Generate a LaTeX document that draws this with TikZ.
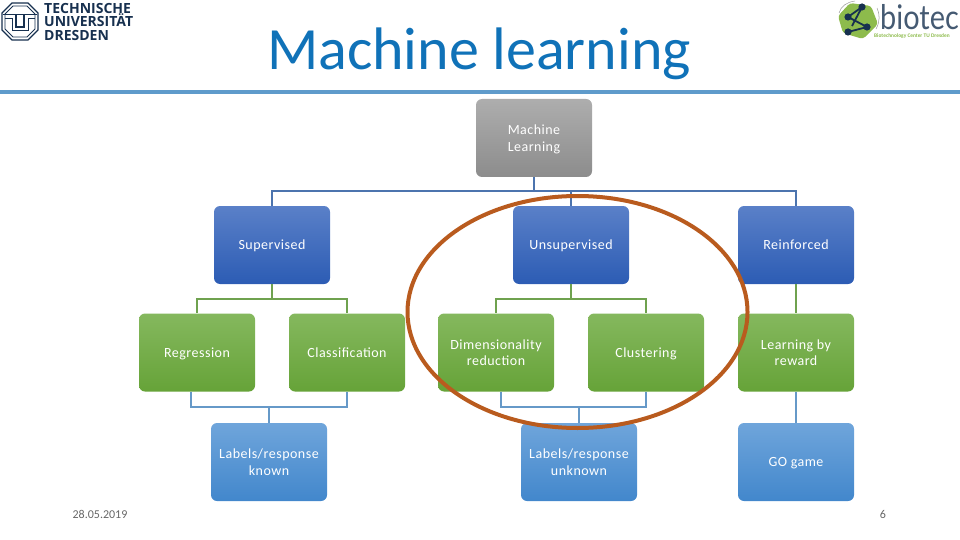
\documentclass[tikz,border=0pt]{standalone}
\usepackage{fontspec}
\setmainfont{Carlito}
\newfontfamily\boxfont[LetterSpace=3.5]{Carlito}
\newfontfamily\logofont{Open Sans}
\newfontfamily\biofont[FakeStretch=0.85]{Lato}
\usetikzlibrary{positioning}
\definecolor{titleblue}{HTML}{1072B8}
\definecolor{rulecol}{HTML}{5F9BCB}
\definecolor{ringcol}{HTML}{B95B1E}
\definecolor{linedark}{HTML}{4C74AE}
\definecolor{linegreen}{HTML}{6FA24F}
\definecolor{linelight}{HTML}{6699C8}
\definecolor{tunavy}{HTML}{17304F}
\definecolor{biogreen}{HTML}{8DBB4C}
\begin{document}
\begin{tikzpicture}[x=1pt,y=-1pt,on grid,
    box/.style ={rectangle ,rounded corners =6pt ,minimum width =116pt ,minimum height =78pt ,
    inner sep =0pt ,text=white ,align=center ,text depth =0pt ,font=\boxfont\fontsize{14}{16.5}\selectfont},
    graybox/.style ={box ,top color =black!32 ,bottom color =black!45},
    bluebox/.style ={box ,top color ={rgb,255:red,90;green,128;blue,200} ,bottom color ={rgb,255:red,44;green,92;blue,180}},
    greenbox/.style ={box ,top color ={rgb,255:red,133;green,184;blue,94} ,bottom color ={rgb,255:red,102;green,163;blue,56}},
    lightbox/.style ={box ,top color ={rgb,255:red,111;green,165;blue,219} ,bottom color ={rgb,255:red,66;green,135;blue,204}},
    tree/.style ={line width =2pt},
    footer/.style ={text=black!60 ,font=\fontsize{12}{14}\selectfont}]
    \useasboundingbox (0,0) rectangle (960,540);
    % header
    \node[text=titleblue ,font=\fontsize{60}{66}\selectfont] (title) at (479,54) {Machine learning};
    \fill[rulecol] (0,90) rectangle (960,94);
    % TU logo
    \draw[tunavy ,line width =1.4pt] (12,3) -- (28,3) -- (38,13) -- (38,30) -- (28,40) -- (12,40) -- (2,30) -- (2,13) -- cycle;
    \draw[tunavy ,line width =0.8pt] (13,6) -- (27,6) -- (35,14) -- (35,29) -- (27,37) -- (13,37) -- (5,29) -- (5,14) -- cycle;
    \draw[tunavy ,line width =1pt] (3,15) -- (37,15);
    \draw[tunavy ,line width =1pt] (5,19) -- (12,19) -- (12,31) -- (28,31) -- (28,19) -- (35,19);
    \draw[tunavy ,line width =2pt] (16,15) -- (16,27) -- (24,27) -- (24,15);
    \node[anchor=west ,inner sep =0pt ,align=left ,text=tunavy ,font=\logofont\bfseries\fontsize{14}{13.5}\selectfont] (tud) at (44,22) {TECHNISCHE\\UNIVERSITÄT\\DRESDEN};
    % biotec logo
    \fill[biogreen ,rounded corners =3pt] (850,3) -- (871,6) -- (878,24) -- (863,39) -- (843,33) -- (838,16) -- cycle;
    \draw[black!40 ,line width =0.5pt] (839,13) .. controls (841,6) and (847,2) .. (855,1);
    \draw[black!40 ,line width =0.5pt] (877,8) .. controls (880,14) and (880,22) .. (876,29);
    \draw[tunavy ,line width =1.8pt] (862,7) -- (848,17) -- (867,27) -- (848,32);
    \draw[tunavy ,line width =1.8pt] (862,7) -- (852,26);
    \foreach \px/\py in {862/7 ,848/17 ,867/27 ,848/32}
      \fill[tunavy] (\px,\py) circle (3.6pt);
    \node[anchor=base west ,inner sep =0pt ,text=tunavy!80 ,font=\biofont\fontsize{34}{34}\selectfont] (biotec) at (880,30) {biotec};
    \node[anchor=west ,inner sep =0pt ,text=biogreen ,font=\bfseries\fontsize{5.4}{6}\selectfont] (biosub) at (874,36) {Biotechnology Center TU Dresden};
    % nodes
    \node[graybox] (ml) at (534,138) {Machine\\Learning};
    \node[bluebox] (sup) at (272,245) {Supervised};
    \node[bluebox] (unsup) [below right =107pt and 37pt of ml] {Unsupervised};
    \node[bluebox] (rein) [right =225pt of unsup] {Reinforced};
    \node[greenbox] (reg) [below left =107.5pt and 75pt of sup] {Regression};
    \node[greenbox] (cla) [below right =107.5pt and 75pt of sup] {Classification};
    \node[greenbox] (dim) [below left =107.5pt and 75pt of unsup] {Dimensionality\\reduction};
    \node[greenbox] (clu) [below right =107.5pt and 75pt of unsup] {Clustering};
    \node[greenbox] (lea) [below =107.5pt of rein] {Learning by\\reward};
    \node[lightbox] (known) at (269,462) {Labels/response\\known};
    \node[lightbox] (unknown) at (579,462) {Labels/response\\unknown};
    \node[lightbox] (go) [below =109.5pt of lea] {GO game};
    % buses
    \coordinate (busa) at (534,191);
    \coordinate (busb) at (272,299);
    \coordinate (busc) at (571,299);
    \coordinate (busd) at (269,406.5);
    \coordinate (buse) at (579,406.5);
    \draw[tree ,linedark] (ml.south) -- (busa) -| (sup.north);
    \draw[tree ,linedark] (busa) -| (unsup.north);
    \draw[tree ,linedark] (busa) -| (rein.north);
    \draw[tree ,linegreen] (sup.south) -- (busb) -| (reg.north);
    \draw[tree ,linegreen] (busb) -| (cla.north);
    \draw[tree ,linegreen] (unsup.south) -- (busc) -| (dim.north);
    \draw[tree ,linegreen] (busc) -| (clu.north);
    \draw[tree ,linegreen] (rein.south) -- (lea.north);
    \draw[tree ,linelight] ([xshift=-6pt]reg.south) |- (busd);
    \draw[tree ,linelight] (cla.south) |- (busd);
    \draw[tree ,linelight] (busd) -- (known.north);
    \draw[tree ,linelight] ([xshift=5pt]dim.south) |- (buse);
    \draw[tree ,linelight] (clu.south) |- (buse);
    \draw[tree ,linelight] (buse) -- (unknown.north);
    \draw[tree ,linelight] (lea.south) -- (go.north);
    % ring
    \draw[ringcol ,line width =4pt] (577.5,312) ellipse (170pt and 116pt);
    % footer
    \node[footer] (date) at (100,514) {28.05.2019};
    \node[footer] (page) at (883,514) {6};
\end{tikzpicture}
\end{document}
